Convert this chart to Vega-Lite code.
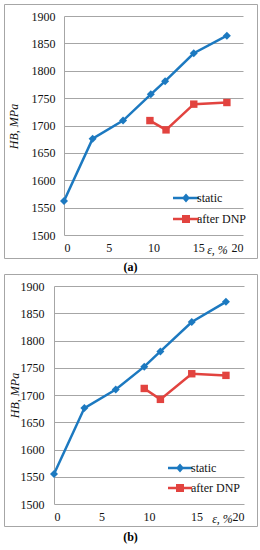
{
  "$schema": "https://vega.github.io/schema/vega-lite/v6.json",
  "padding": {"left": 3, "top": 3, "right": 0, "bottom": 0},
  "background": "white",
  "data": {"values": [
    {"panel": "a", "series": "static", "eps": 0, "hb": 1562},
    {"panel": "a", "series": "static", "eps": 3.2, "hb": 1676},
    {"panel": "a", "series": "static", "eps": 6.6, "hb": 1709},
    {"panel": "a", "series": "static", "eps": 9.7, "hb": 1757},
    {"panel": "a", "series": "static", "eps": 11.3, "hb": 1781},
    {"panel": "a", "series": "static", "eps": 14.5, "hb": 1832},
    {"panel": "a", "series": "static", "eps": 18.2, "hb": 1864},
    {"panel": "a", "series": "after DNP", "eps": 9.6, "hb": 1709},
    {"panel": "a", "series": "after DNP", "eps": 11.4, "hb": 1692},
    {"panel": "a", "series": "after DNP", "eps": 14.5, "hb": 1739},
    {"panel": "a", "series": "after DNP", "eps": 18.2, "hb": 1742},
    {"panel": "b", "series": "static", "eps": 0, "hb": 1555},
    {"panel": "b", "series": "static", "eps": 3.2, "hb": 1676},
    {"panel": "b", "series": "static", "eps": 6.5, "hb": 1710},
    {"panel": "b", "series": "static", "eps": 9.5, "hb": 1752},
    {"panel": "b", "series": "static", "eps": 11.2, "hb": 1780},
    {"panel": "b", "series": "static", "eps": 14.5, "hb": 1834},
    {"panel": "b", "series": "static", "eps": 18.1, "hb": 1871},
    {"panel": "b", "series": "after DNP", "eps": 9.5, "hb": 1712},
    {"panel": "b", "series": "after DNP", "eps": 11.2, "hb": 1692},
    {"panel": "b", "series": "after DNP", "eps": 14.5, "hb": 1739},
    {"panel": "b", "series": "after DNP", "eps": 18.1, "hb": 1736}
  ]},
  "spacing": -2,
  "vconcat": [
    {
      "width": 253,
      "height": 254,
      "title": {"text": "(a)", "orient": "bottom", "font": "Liberation Serif", "fontSize": 12, "fontWeight": "bold", "offset": 4, "color": "black"},
      "transform": [{"filter": "datum.panel == 'a'"}],
      "encoding": {
        "x": {"field": "eps", "type": "quantitative",
          "scale": {"domain": [0, 20], "range": [60, 239]},
          "axis": {"values": [0, 5, 10, 15, 20], "format": "d", "grid": false, "domain": false, "ticks": false, "offset": -23, "labelPadding": 7,
            "title": "ε, %", "titleX": 213, "titleY": 14, "titleBaseline": "middle", "titleAlign": "center", "titleFontStyle": "italic"}},
        "y": {"field": "hb", "type": "quantitative",
          "scale": {"domain": [1500, 1900], "range": [231, 12]},
          "axis": {"values": [1500, 1550, 1600, 1650, 1700, 1750, 1800, 1850, 1900], "format": "d", "labelOverlap": false, "offset": -60, "ticks": false, "labelPadding": 9,
            "title": "HB, MPa", "titleX": -51, "titleY": 122, "titleBaseline": "middle", "titleAlign": "center", "titleFontStyle": "italic"}}
      },
      "layer": [
        {
          "mark": {"type": "line", "strokeWidth": 2.5},
          "encoding": {
            "color": {"field": "series", "type": "nominal",
              "scale": {"domain": ["static", "after DNP"], "range": ["#1c79c0", "#e2433f"]},
              "legend": {"orient": "none", "legendX": 172, "legendY": 184, "title": null, "padding": 0, "symbolSize": 400, "rowPadding": 5, "labelOffset": 1,
                "encode": {"symbols": {"update": {
                  "shape": {"signal": "datum.value === 'static' ? 'M-1.3,-0.12L1.3,-0.12L1.3,0.12L-1.3,0.12ZM0,-0.45L0.4,0L0,0.45L-0.4,0Z' : 'M-1.3,-0.12L1.3,-0.12L1.3,0.12L-1.3,0.12ZM-0.4,-0.4L0.4,-0.4L0.4,0.4L-0.4,0.4Z'"},
                  "fill": {"signal": "datum.value === 'static' ? '#1c79c0' : '#e2433f'"},
                  "stroke": {"value": "transparent"},
                  "strokeWidth": {"value": 0},
                  "opacity": {"value": 1}}}}}}
          }
        },
        {
          "transform": [{"filter": "datum.series == 'static'"}],
          "mark": {"type": "point", "shape": "diamond", "filled": true, "opacity": 1, "size": 64, "color": "#1c79c0"}
        },
        {
          "transform": [{"filter": "datum.series == 'after DNP'"}],
          "mark": {"type": "point", "shape": "square", "filled": true, "opacity": 1, "size": 55, "color": "#e2433f"}
        }
      ]
    },
    {
      "width": 253,
      "height": 252,
      "title": {"text": "(b)", "orient": "bottom", "font": "Liberation Serif", "fontSize": 12, "fontWeight": "bold", "offset": 6, "color": "black"},
      "transform": [{"filter": "datum.panel == 'b'"}],
      "encoding": {
        "x": {"field": "eps", "type": "quantitative",
          "scale": {"domain": [0, 20], "range": [50, 240]},
          "axis": {"values": [0, 5, 10, 15, 20], "format": "d", "grid": false, "domain": false, "ticks": false, "offset": -22, "labelPadding": 7,
            "title": "ε, %", "titleX": 218, "titleY": 14, "titleBaseline": "middle", "titleAlign": "center", "titleFontStyle": "italic"}},
        "y": {"field": "hb", "type": "quantitative",
          "scale": {"domain": [1500, 1900], "range": [230, 12]},
          "axis": {"values": [1500, 1550, 1600, 1650, 1700, 1750, 1800, 1850, 1900], "format": "d", "labelOverlap": false, "offset": -50, "ticks": false, "labelPadding": 10,
            "title": "HB, MPa", "titleX": -40, "titleY": 121, "titleBaseline": "middle", "titleAlign": "center", "titleFontStyle": "italic"}}
      },
      "layer": [
        {
          "mark": {"type": "line", "strokeWidth": 2.5},
          "encoding": {
            "color": {"field": "series", "type": "nominal",
              "scale": {"domain": ["static", "after DNP"], "range": ["#1c79c0", "#e2433f"]},
              "legend": {"orient": "none", "legendX": 166, "legendY": 184, "title": null, "padding": 0, "symbolSize": 400, "rowPadding": 4, "labelOffset": 1,
                "encode": {"symbols": {"update": {
                  "shape": {"signal": "datum.value === 'static' ? 'M-1.2,-0.12L1.2,-0.12L1.2,0.12L-1.2,0.12ZM0,-0.45L0.4,0L0,0.45L-0.4,0Z' : 'M-1.2,-0.12L1.2,-0.12L1.2,0.12L-1.2,0.12ZM-0.4,-0.4L0.4,-0.4L0.4,0.4L-0.4,0.4Z'"},
                  "fill": {"signal": "datum.value === 'static' ? '#1c79c0' : '#e2433f'"},
                  "stroke": {"value": "transparent"},
                  "strokeWidth": {"value": 0},
                  "opacity": {"value": 1}}}}}}
          }
        },
        {
          "transform": [{"filter": "datum.series == 'static'"}],
          "mark": {"type": "point", "shape": "diamond", "filled": true, "opacity": 1, "size": 64, "color": "#1c79c0"}
        },
        {
          "transform": [{"filter": "datum.series == 'after DNP'"}],
          "mark": {"type": "point", "shape": "square", "filled": true, "opacity": 1, "size": 55, "color": "#e2433f"}
        }
      ]
    }
  ],
  "resolve": {"scale": {"x": "independent", "y": "independent", "color": "independent"}, "legend": {"color": "independent"}},
  "config": {
    "view": {"stroke": "#a6a6a6", "strokeWidth": 1},
    "axis": {"labelFont": "Liberation Serif", "labelFontSize": 12, "labelColor": "#111", "titleFont": "Liberation Serif", "titleFontSize": 12, "titleFontWeight": "normal", "titleColor": "#111", "gridColor": "#a6a6a6", "gridOpacity": 1, "domainColor": "#a6a6a6", "labelAngle": 0},
    "legend": {"labelFont": "Liberation Serif", "labelFontSize": 12, "labelColor": "#111"}
  }
}
